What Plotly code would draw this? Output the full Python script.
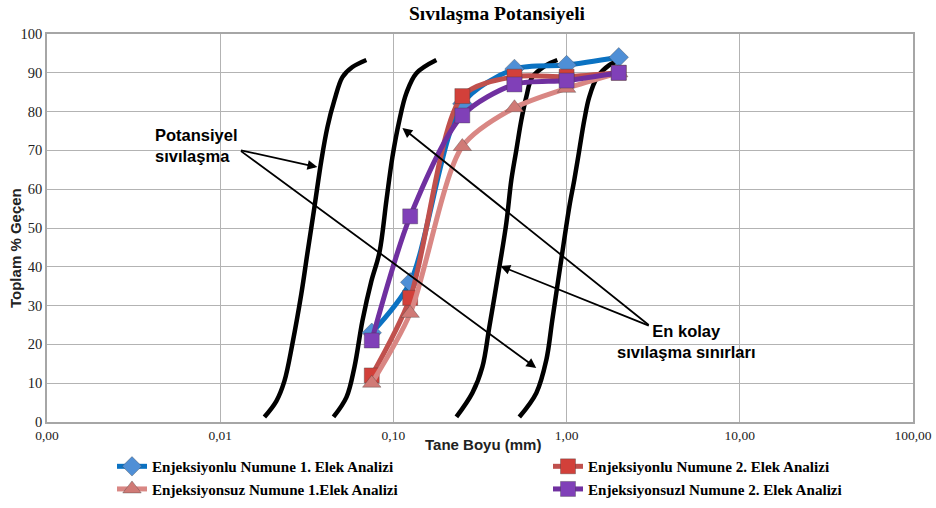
import plotly.graph_objects as go
import math

# ---- data ----
sieve_mm = [0.075, 0.125, 0.25, 0.5, 1.0, 2.0]
enj_num1 = [23, 36, 82, 91, 92, 94]
enj_num2 = [12, 32, 84, 89, 89, 90]
enjsuz_num1 = [10, 28, 71, 81, 86, 90]
enjsuz_num2 = [21, 53, 79, 87, 88, 90]

series_names = [
    "Enjeksiyonlu Numune 1. Elek Analizi",
    "Enjeksiyonlu Numune 2. Elek Analizi",
    "Enjeksiyonsuz Numune 1.Elek Analizi",
    "Enjeksiyonsuzl Numune 2. Elek Analizi",
]

# boundary curves
b1_x = [0.0180, 0.0211, 0.0235, 0.0261, 0.0294, 0.0319, 0.0350, 0.0384, 0.0416, 0.0457, 0.0508, 0.058, 0.0698]
b1_y = [1.3, 5.4, 10.6, 20.1, 33, 43.6, 55.4, 67.5, 76, 83, 88.9, 91.5, 93.3]
b2_x = [0.0451, 0.0536, 0.0596, 0.0662, 0.0746, 0.0830, 0.0912, 0.0987, 0.1083, 0.1189, 0.1358, 0.177]
b2_y = [1.3, 6.4, 14.2, 26, 36.3, 43.6, 57.2, 68.3, 77.8, 84.8, 89.9, 93.3]
b3_x = [0.231, 0.2858, 0.3264, 0.3581, 0.4091, 0.4488, 0.4797, 0.5126, 0.5478, 0.5853, 0.6339, 0.7638, 0.884]
b3_y = [1.3, 7.5, 14.2, 24.5, 39.9, 51.3, 62.4, 70.1, 77.8, 83.8, 88.9, 92, 93.3]
b4_x = [0.5333, 0.6688, 0.7638, 0.827, 0.931, 1.036, 1.108, 1.184, 1.265, 1.352, 1.504, 1.763, 2.068]
b4_y = [1.3, 7.5, 16, 26.3, 41.8, 55.4, 62.4, 70.1, 77.8, 83.8, 88.9, 92, 93.3]

x_tickvals = [0.001, 0.01, 0.1, 1, 10, 100]
x_ticktext = ["0,00", "0,01", "0,10", "1,00", "10,00", "100,00"]

W, H = 936, 508
PL, PT, PW, PH = 47, 34, 866, 388   # plot area in page pixels


def px(xp):
    return (xp - PL) / PW


def py(yp):
    return (PT + PH - yp) / PH


fig = go.Figure()

for bx, by in [(b1_x, b1_y), (b2_x, b2_y), (b3_x, b3_y), (b4_x, b4_y)]:
    fig.add_trace(go.Scatter(x=bx, y=by, mode="lines", line=dict(color="black", width=4.5, shape="spline"),
                             showlegend=False, hoverinfo="skip"))

styles = [
    dict(line="#0b72c2", marker="#4f8fd6", symbol="diamond", size=15, legend="legend"),
    dict(line="#c0504d", marker="#d2403a", symbol="square", size=15, legend="legend2"),
    dict(line="#d98784", marker="#d07a76", symbol="triangle-up", size=16, legend="legend"),
    dict(line="#7030a0", marker="#8040b8", symbol="square", size=15, legend="legend2"),
]
vals = [enj_num1, enj_num2, enjsuz_num1, enjsuz_num2]
for i, (name, v, st) in enumerate(zip(series_names, vals, styles)):
    fig.add_trace(go.Scatter(
        x=sieve_mm, y=v, mode="lines+markers", name="<b>" + name + "</b>",
        legend=st["legend"], legendgroup="g%d" % i,
        line=dict(color=st["line"], width=5, shape="spline", smoothing=0.8),
        marker=dict(symbol=st["symbol"], size=st["size"], color=st["marker"],
                    line=dict(color="rgba(60,60,60,0.35)", width=1)),
    ))

lg = math.log10
arrow = dict(showarrow=True, arrowhead=2, arrowsize=1.1, arrowwidth=1.8, arrowcolor="black",
             xref="x", yref="y", axref="x", ayref="y", text="")
ann = [
    dict(x=lg(0.0364), y=65.7, ax=lg(0.01292), ay=70.1, **arrow),
    dict(x=lg(0.668), y=13.9, ax=lg(0.01292), ay=70.1, **arrow),
    dict(x=lg(0.1127), y=75.8, ax=lg(3.04), ay=24.7, **arrow),
    dict(x=lg(0.4143), y=40.2, ax=lg(3.04), ay=24.7, **arrow),
    dict(text="<b>Potansiyel<br>sıvılaşma</b>", x=px(153), y=py(145), xref="paper", yref="paper",
         xanchor="left", yanchor="middle", align="left", showarrow=False,
         font=dict(family="Liberation Sans, Arial", size=16.5, color="black")),
    dict(text="<b>En kolay<br>sıvılaşma sınırları</b>", x=px(686), y=py(341), xref="paper", yref="paper",
         xanchor="center", yanchor="middle", align="center", showarrow=False,
         font=dict(family="Liberation Sans, Arial", size=16.5, color="black")),
    dict(text="<b>Tane Boyu (mm)</b>", x=px(483), y=py(444), xref="paper", yref="paper",
         xanchor="center", yanchor="middle", showarrow=False,
         font=dict(family="Liberation Sans, Arial", size=15, color="#222")),
    dict(text="<b>Toplam % Geçen</b>", x=px(15), y=py(248), xref="paper", yref="paper",
         xanchor="center", yanchor="middle", showarrow=False, textangle=-90,
         font=dict(family="Liberation Sans, Arial", size=15, color="#222")),
]

legend_common = dict(orientation="v", yanchor="top", itemwidth=30, tracegroupgap=0,
                     font=dict(family="Liberation Serif, Times New Roman", size=15.1, color="black"),
                     bgcolor="rgba(0,0,0,0)", borderwidth=0)

fig.update_layout(
    width=W, height=H,
    margin=dict(l=PL, r=W - PL - PW, t=PT, b=H - PT - PH, autoexpand=False),
    paper_bgcolor="white", plot_bgcolor="white",
    title=dict(text="<b>Sıvılaşma Potansiyeli</b>", x=497 / W, xanchor="center",
               y=1 - 13 / H, yanchor="middle", xref="container", yref="container",
               pad=dict(t=0, b=0, l=0, r=0),
               font=dict(family="Liberation Serif, Times New Roman", size=19.5, color="black")),
    annotations=ann,
    showlegend=True,
    legend=dict(x=px(112), xanchor="left", y=py(450), **legend_common),
    legend2=dict(x=px(548), xanchor="left", y=py(450), **legend_common),
)
fig.update_xaxes(type="log", range=[-3, 2], tickvals=x_tickvals, ticktext=x_ticktext,
                 showgrid=True, gridcolor="#b3b3b3", gridwidth=1.3,
                 showline=True, linecolor="#a6a6a6", linewidth=1.5, mirror=True, ticks="",
                 tickfont=dict(family="Liberation Serif, Times New Roman", size=13.5, color="#222"), zeroline=False)
fig.update_yaxes(range=[0, 100], dtick=10, showgrid=True, gridcolor="#b3b3b3", gridwidth=1.3,
                 showline=True, linecolor="#a6a6a6", linewidth=1.5, mirror=True, ticks="",
                 tickfont=dict(family="Liberation Serif, Times New Roman", size=14.5, color="#222"), zeroline=False)

fig.write_html("out.html", config={"displayModeBar": False},
               post_script="document.body.style.margin='0px';")
